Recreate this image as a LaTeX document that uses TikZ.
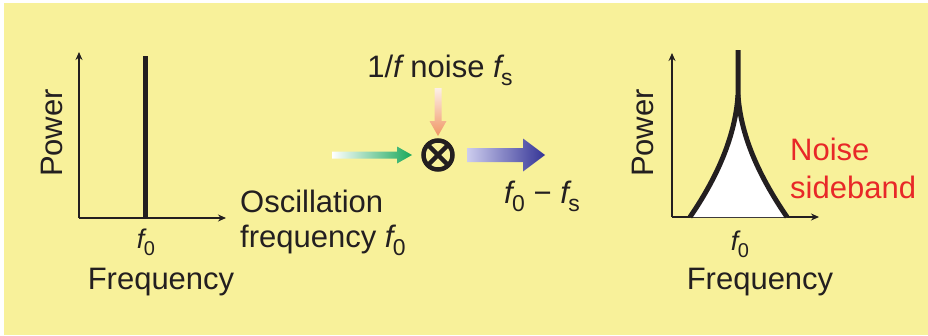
\documentclass[tikz,border=0pt]{standalone}
\usepackage{fontspec}
\usetikzlibrary{arrows.meta}
\setmainfont{Liberation Sans}
\definecolor{bgyellow}{RGB}{248,241,154}
\definecolor{ink}{RGB}{35,31,32}
\definecolor{noisered}{RGB}{232,40,40}
\definecolor{arrgreen}{RGB}{25,168,90}
\definecolor{arrorange}{RGB}{240,150,100}
\definecolor{arrblue}{RGB}{52,52,150}
\definecolor{arrlav}{RGB}{205,205,238}
\newcommand\mysub[1]{\kern-0.02em\raisebox{-0.28em}{\fontsize{0.74em}{0.74em}\selectfont #1}}
\newcommand\ff{{\itshape f}}
\begin{document}
\begin{tikzpicture}[x=1pt,y=-1pt,
  lbl/.style={text=ink,font=\fontsize{31}{36}\selectfont,inner sep=0pt},
  small/.style={text=ink,font=\fontsize{27}{30}\selectfont,inner sep=0pt},
  axis/.style={draw=ink,line width=1.8pt,-{Stealth[length=8pt,width=7pt]}},
  spike/.style={draw=ink,line width=5pt}]
\useasboundingbox (0,0) rectangle (928,335);
\fill[bgyellow] (4,3) rectangle (928,335);
% left chart
\coordinate (lo) at (79,218);
\coordinate (ly) at (79,52);
\coordinate (lx) at (226,218);
\coordinate (sb) at (145,218);
\coordinate (st) at (145,56);
\draw[axis] (lo) -- (ly);
\draw[axis] (lo) -- (lx);
\draw[spike] (sb) -- (st);
\node[small,anchor=base] (lf0) at (146,248) {\ff\mysub{0}};
\node[lbl,anchor=base] (lfreq) at (161,289) {Frequency};
\node[lbl,anchor=base,rotate=90] (lpow) at (62,133) {Power};
% middle
\node[lbl,anchor=base west] (osc1) at (240,212) {Oscillation};
\node[lbl,anchor=base west] (osc2) at (240,247) {frequency \ff\mysub{0}};
\node[lbl,anchor=base] (noise) at (440,77) {1/\ff\ noise \ff\mysub{s}};
\node[lbl,anchor=base west] (diff) at (504,203) {\ff\mysub{0} − \ff\mysub{s}};
\node[circle,draw=ink,line width=4.5pt,minimum size=29pt,inner sep=0pt] (mix) at (438,155) {};
\draw[ink,line width=4.5pt] (mix.center) ++(-9.5,-9.5) -- ++(19,19);
\draw[ink,line width=4.5pt] (mix.center) ++(9.5,-9.5) -- ++(-19,19);
% arrows
\shade[left color=white,right color=arrgreen]
  (332,151.5) -- (397,151.5) -- (397,146.5) -- (412,155) -- (397,163.5) -- (397,158.5) -- (332,158.5) -- cycle;
\shade[top color=white!85!arrorange,bottom color=arrorange]
  (434.5,88) -- (441.5,88) -- (441.5,121) -- (446.5,121) -- (438,136) -- (429.5,121) -- (434.5,121) -- cycle;
\shade[left color=arrlav,right color=arrblue]
  (467,148) -- (523,148) -- (523,138.5) -- (545,155) -- (523,171.5) -- (523,162) -- (467,162) -- cycle;
% right chart
\coordinate (ro) at (672,217);
\coordinate (ry) at (672,53);
\coordinate (rx) at (819,217);
\draw[axis] (ro) -- (ry);
\draw[axis] (ro) -- (rx);
\coordinate (pk) at (738,50);
\coordinate (pm) at (738,95);
\coordinate (bl) at (690,217);
\coordinate (br) at (787,217);
\fill[white] (bl) .. controls (714,182) and (735,140) .. (pm)
  .. controls (741,140) and (763,182) .. (br) -- cycle;
\draw[ink,line width=5pt,line join=round] (bl) .. controls (714,182) and (735,140) .. (pm) -- (pk);
\draw[ink,line width=5pt,line join=round] (pm) .. controls (741,140) and (763,182) .. (br);
\node[small,anchor=base] (rf0) at (740,250) {\ff\mysub{0}};
\node[lbl,anchor=base] (rfreq) at (760,289) {Frequency};
\node[lbl,anchor=base,rotate=90] (rpow) at (653,133) {Power};
\node[lbl,anchor=base west,text=noisered] (ns1) at (790,160) {Noise};
\node[lbl,anchor=base west,text=noisered] (ns2) at (790,198) {sideband};
\end{tikzpicture}
\end{document}
